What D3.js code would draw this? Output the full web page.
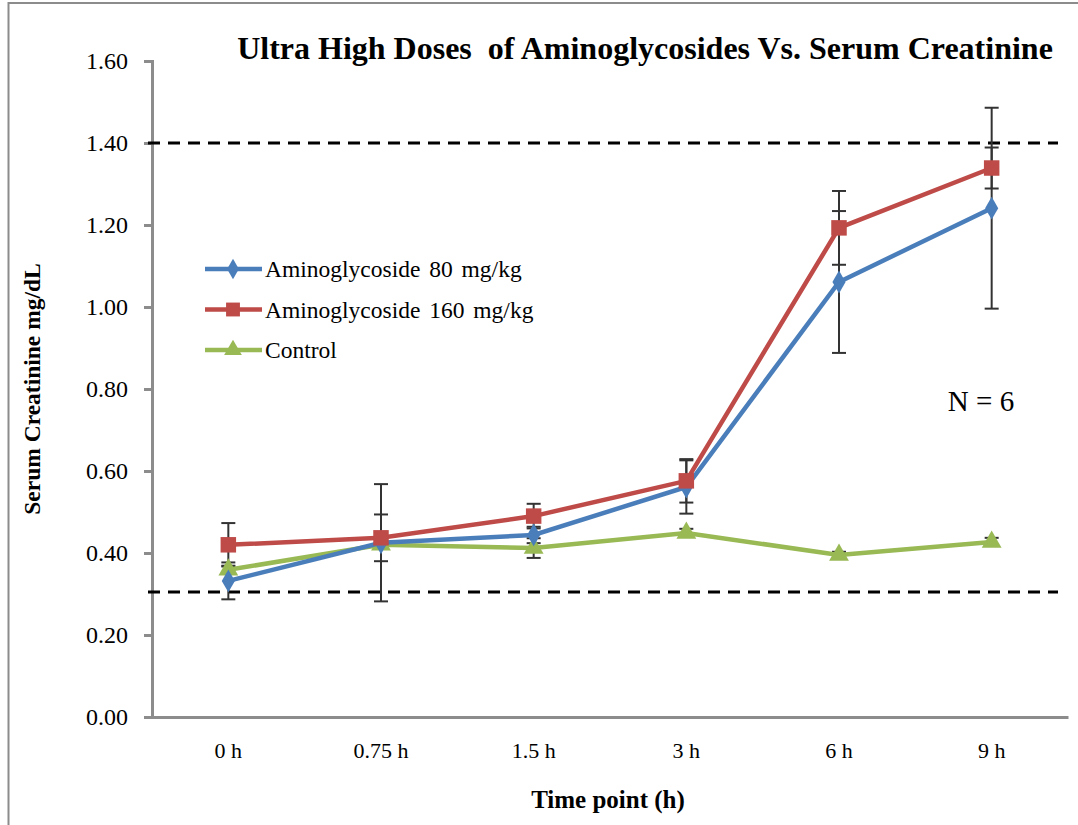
<!DOCTYPE html>
<html><head><meta charset="utf-8">
<script src="https://cdn.jsdelivr.net/npm/d3@7"></script>
<style>body{margin:0;background:#fff}svg{display:block}text{font-family:"Liberation Serif","Times New Roman",serif}</style>
</head><body>
<script>
const categories = ["0 h","0.75 h","1.5 h","3 h","6 h","9 h"];
const seriesNames = ["Aminoglycoside 80 mg/kg","Aminoglycoside 160 mg/kg","Control"];
const dose80 = [0.332,0.425,0.444,0.561,1.061,1.241];
const dose80Err = [0.045,0.143,0.020,0.065,0.173,0.245];
const dose160 = [0.420,0.437,0.490,0.576,1.193,1.339];
const dose160Err = [0.053,0.057,0.030,0.053,0.090,0.050];
const control = [0.359,0.420,0.412,0.449,0.395,0.427];
const controlErr = [0.010,0.010,0.024,0.010,0.008,0.010];
const yTicks = [0,0.2,0.4,0.6,0.8,1.0,1.2,1.4,1.6];
const refLines = [1.40,0.305];

const W=1078,H=825;
const svg=d3.select("body").append("svg").attr("width",W).attr("height",H);
svg.append("rect").attr("x",8.5).attr("y",3).attr("width",W+20).attr("height",H+20)
  .attr("fill","none").attr("stroke","#8c8c8c").attr("stroke-width",2);

const x=d3.scaleBand().domain(categories).range([152,1068]);
const y=d3.scaleLinear().domain([0,1.6]).range([717,61]);
const cx=c=>x(c)+x.bandwidth()/2;

// y axis
const ya=svg.append("g").attr("transform","translate(152,0)")
  .call(d3.axisLeft(y).tickValues(yTicks).tickFormat(d3.format(".2f")).tickSize(8).tickPadding(16));
ya.attr("font-size",null).attr("font-family",null);
ya.select(".domain").attr("stroke","#8c8c8c").attr("stroke-width",3);
ya.selectAll(".tick line").attr("stroke","#8c8c8c").attr("stroke-width",3);
ya.selectAll(".tick text").style("font-size","24px").style("fill","#000").style("font-family","'Liberation Serif',serif");

// x axis
const xa=svg.append("g").attr("transform","translate(0,717)")
  .call(d3.axisBottom(x).tickSize(0).tickPadding(25));
xa.attr("font-size",null).attr("font-family",null);
xa.select(".domain").attr("stroke","#8c8c8c").attr("stroke-width",3);
xa.selectAll(".tick text").style("font-size","22px").style("fill","#000").style("font-family","'Liberation Serif',serif");

// reference dashed lines
svg.selectAll(".ref").data(refLines).enter().append("line")
  .attr("x1",148).attr("x2",1058).attr("y1",d=>y(d)).attr("y2",d=>y(d))
  .attr("stroke","#000").attr("stroke-width",3).attr("stroke-dasharray","12,8");

const series=[
  {name:seriesNames[0],vals:dose80,err:dose80Err,color:"#4a7ebb",shape:"diamond"},
  {name:seriesNames[1],vals:dose160,err:dose160Err,color:"#be4b48",shape:"square"},
  {name:seriesNames[2],vals:control,err:controlErr,color:"#98b954",shape:"triangle"}
];
const sym={diamond:d3.symbolDiamond,square:d3.symbolSquare,triangle:d3.symbolTriangle};
const symSize={diamond:150,square:240,triangle:170};

// error bars
series.forEach(s=>{
  const g=svg.append("g");
  s.vals.forEach((v,i)=>{
    const X=cx(categories[i]);
    g.append("line").attr("x1",X).attr("x2",X).attr("y1",y(v+s.err[i])).attr("y2",y(v-s.err[i]))
      .attr("stroke","#333").attr("stroke-width",2);
    [v+s.err[i],v-s.err[i]].forEach(e=>g.append("line").attr("x1",X-7).attr("x2",X+7)
      .attr("y1",y(e)).attr("y2",y(e)).attr("stroke","#333").attr("stroke-width",2));
  });
});

const line=d3.line().x((d,i)=>cx(categories[i])).y(d=>y(d));
[series[2],series[0],series[1]].forEach(s=>{
  svg.append("path").datum(s.vals).attr("d",line).attr("fill","none")
    .attr("stroke",s.color).attr("stroke-width",4.5);
  svg.selectAll(null).data(s.vals).enter().append("path")
    .attr("d",d3.symbol().type(sym[s.shape]).size(symSize[s.shape]))
    .attr("transform",(d,i)=>`translate(${cx(categories[i])},${y(d)})`)
    .attr("fill",s.color);
});

// legend
series.forEach((s,i)=>{
  const ly=269+i*40.5;
  svg.append("line").attr("x1",205).attr("x2",262).attr("y1",ly).attr("y2",ly)
    .attr("stroke",s.color).attr("stroke-width",4.5);
  svg.append("path").attr("d",d3.symbol().type(sym[s.shape]).size(symSize[s.shape]*0.8))
    .attr("transform",`translate(233,${ly})`).attr("fill",s.color);
  svg.append("text").attr("x",265).attr("y",ly+8).style("font-size","23.5px").attr("word-spacing",3).text(s.name);
});

svg.append("text").attr("x",645).attr("y",59).attr("text-anchor","middle")
  .style("font-size","32px").attr("font-weight","bold")
  .style("white-space","pre").text("Ultra High Doses  of Aminoglycosides Vs. Serum Creatinine");
svg.append("text").attr("x",981).attr("y",411).attr("text-anchor","middle").style("font-size","29px").text("N = 6");
svg.append("text").attr("transform","translate(40,389) rotate(-90)").attr("text-anchor","middle")
  .style("font-size","23.5px").attr("font-weight","bold").text("Serum Creatinine mg/dL");
svg.append("text").attr("x",608).attr("y",808).attr("text-anchor","middle")
  .style("font-size","25px").attr("font-weight","bold").text("Time point (h)");
</script>
</body></html>
